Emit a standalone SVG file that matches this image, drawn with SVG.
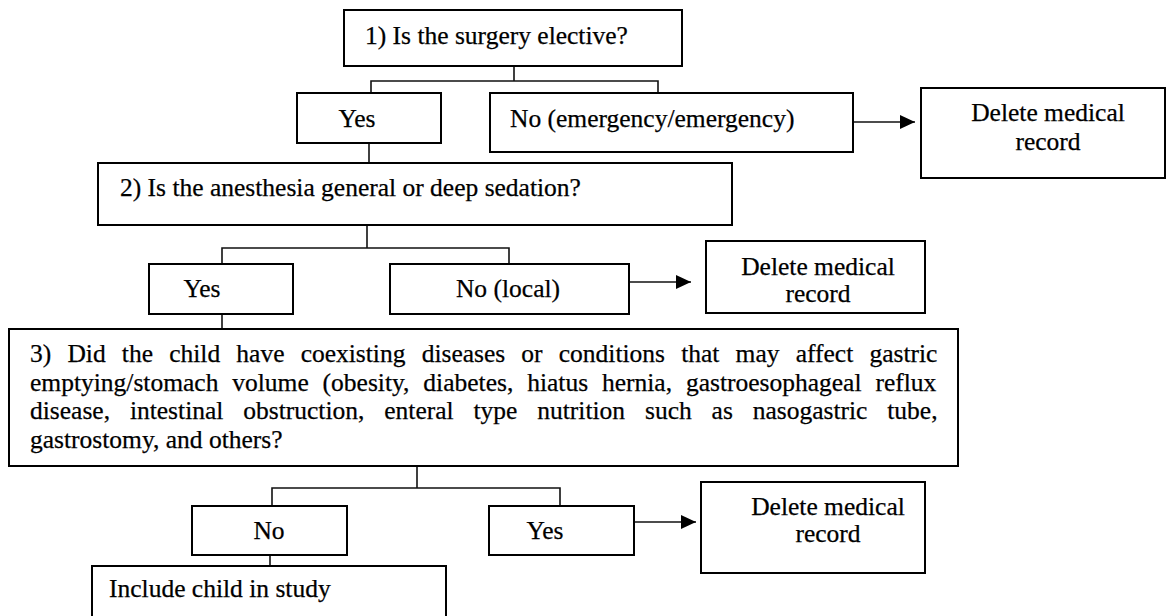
<svg xmlns="http://www.w3.org/2000/svg" width="1170" height="616" viewBox="0 0 1170 616">
<style>
.box{fill:#fff;stroke:#000;stroke-width:2}
.ln{fill:none;stroke:#111;stroke-width:1.6}
.t{font-family:"Liberation Serif","Times New Roman",serif;font-size:25.5px;fill:#000;stroke:#000;stroke-width:0.25}
.c{text-anchor:middle}
</style>
<defs>
<marker id="arr" markerUnits="userSpaceOnUse" markerWidth="16" markerHeight="14" refX="15" refY="7" orient="auto">
<path d="M0,0 L15,7 L0,14 z" fill="#000"/>
</marker>
</defs>
<rect width="1170" height="616" fill="#fff"/>
<g id="connectors">
<path class="ln" d="M514,66 V81 M371,93 V81 H658 V93"/>
<path class="ln" d="M369,143 V163"/>
<path class="ln" d="M853,122 H915" marker-end="url(#arr)"/>
<path class="ln" d="M367,225 V248 M222,264 V248 H509 V264"/>
<path class="ln" d="M629,282 H691" marker-end="url(#arr)"/>
<path class="ln" d="M222,314 V328"/>
<path class="ln" d="M417,466 V488 M272,506 V488 H560 V506"/>
<path class="ln" d="M634,522 H696" marker-end="url(#arr)"/>
<path class="ln" d="M270,555 V566"/>
</g>
<g id="q1">
<rect class="box" x="344" y="10" width="338" height="56"/>
<text class="t" x="365" y="44">1) Is the surgery elective?</text>
</g>
<g id="yes1">
<rect class="box" x="297" y="93" width="144" height="50"/>
<text class="t c" x="357" y="127">Yes</text>
</g>
<g id="no1">
<rect class="box" x="490" y="93" width="363" height="59"/>
<text class="t" x="510" y="127">No (emergency/emergency)</text>
</g>
<g id="del1">
<rect class="box" x="921" y="88" width="244" height="90"/>
<text class="t c" x="1048" y="121">Delete medical</text>
<text class="t c" x="1048" y="150">record</text>
</g>
<g id="q2">
<rect class="box" x="98" y="163" width="634" height="62"/>
<text class="t" x="120" y="196">2) Is the anesthesia general or deep sedation?</text>
</g>
<g id="yes2">
<rect class="box" x="149" y="264" width="144" height="50"/>
<text class="t c" x="202" y="297">Yes</text>
</g>
<g id="no2">
<rect class="box" x="390" y="264" width="239" height="50"/>
<text class="t c" x="508" y="297">No (local)</text>
</g>
<g id="del2">
<rect class="box" x="706" y="241" width="219" height="72"/>
<text class="t c" x="818" y="275">Delete medical</text>
<text class="t c" x="818" y="302">record</text>
</g>
<g id="q3">
<rect class="box" x="9" y="329" width="949" height="137"/>
<text class="t" x="30" y="362" word-spacing="9.8">3) Did the child have coexisting diseases or conditions that may affect gastric</text>
<text class="t" x="30" y="391" word-spacing="7.5">emptying/stomach volume (obesity, diabetes, hiatus hernia, gastroesophageal reflux</text>
<text class="t" x="30" y="419" word-spacing="13.5">disease, intestinal obstruction, enteral type nutrition such as nasogastric tube,</text>
<text class="t" x="30" y="448">gastrostomy, and others?</text>
</g>
<g id="no3">
<rect class="box" x="192" y="506" width="155" height="49"/>
<text class="t c" x="269" y="539">No</text>
</g>
<g id="yes3">
<rect class="box" x="489" y="506" width="145" height="49"/>
<text class="t c" x="545" y="539">Yes</text>
</g>
<g id="del3">
<rect class="box" x="701" y="482" width="224" height="91"/>
<text class="t c" x="828" y="515">Delete medical</text>
<text class="t c" x="828" y="542">record</text>
</g>
<g id="include">
<rect class="box" x="92" y="566" width="354" height="60"/>
<text class="t" x="109" y="597">Include child in study</text>
</g>
</svg>
